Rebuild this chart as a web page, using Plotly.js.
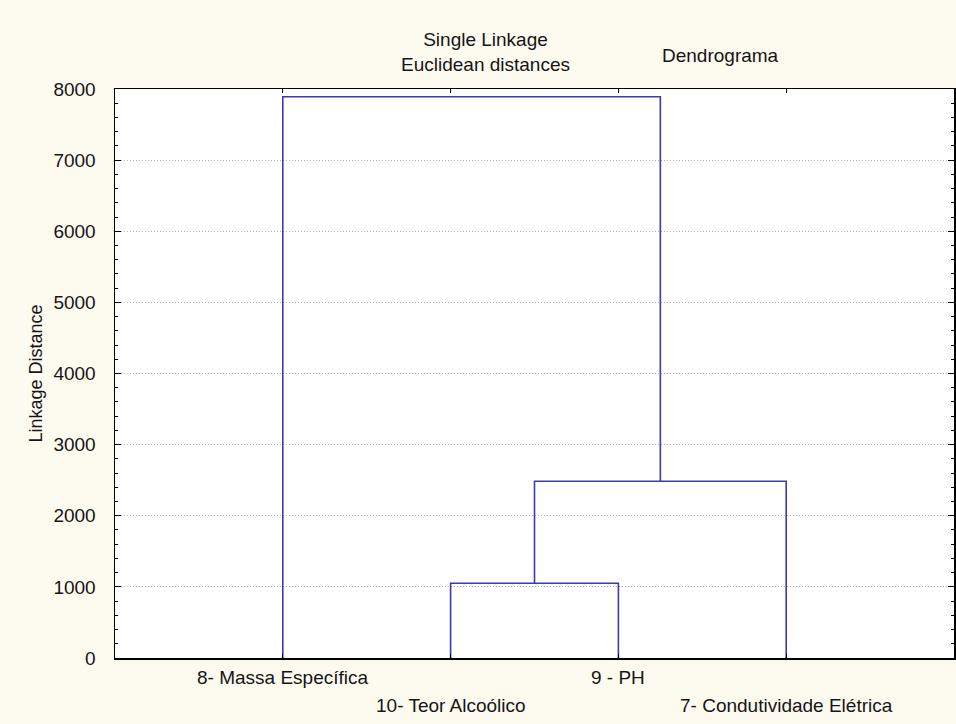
<!DOCTYPE html>
<html>
<head>
<meta charset="utf-8">
<script src="https://cdn.plot.ly/plotly-3.0.1.min.js"></script>
<style>html,body{margin:0;padding:0;background:#fdfaf0;}#chart{width:956px;height:724px;}</style>
</head>
<body>
<div id="chart"></div>
<script>
// Leaves in dendrogram order (x positions 1..4)
const leafLabels = ['8- Massa Específica', '10- Teor Alcoólico', '9 - PH', '7- Condutividade Elétrica'];
const leafPos = [1, 2, 3, 4];
const labelRow = [0, 1, 0, 1];
// Merges: left node, right node, linkage distance (nodes: 0..3 leaves, 4.. clusters)
const mergeLeft = [1, 4, 0];
const mergeRight = [2, 3, 5];
const mergeHeight = [1050, 2485, 7890];
const yTicks = [0, 1000, 2000, 3000, 4000, 5000, 6000, 7000, 8000];

const lineColor = '#3b3bb0';
const nodeX = leafPos.slice();
const nodeY = leafPos.map(() => 0);
const traces = [];
for (let i = 0; i < mergeHeight.length; i++) {
  const a = mergeLeft[i], b = mergeRight[i], h = mergeHeight[i];
  traces.push({
    type: 'scatter', mode: 'lines',
    x: [nodeX[a], nodeX[a], nodeX[b], nodeX[b]],
    y: [nodeY[a], h, h, nodeY[b]],
    line: {color: lineColor, width: 1.6},
    hoverinfo: 'skip', showlegend: false
  });
  nodeX.push((nodeX[a] + nodeX[b]) / 2);
  nodeY.push(h);
}

const font = {family: 'Arial, "Liberation Sans", sans-serif', color: '#151515'};
const fs = 19;
const annotations = [
  {text: 'Single Linkage<br>Euclidean distances', xref: 'paper', yref: 'paper',
   x: (485 - 115) / 839, y: 1, yshift: 37, showarrow: false, xanchor: 'center', yanchor: 'middle',
   font: Object.assign({size: fs}, font)},
  {text: 'Dendrograma', xref: 'paper', yref: 'paper',
   x: (720 - 115) / 839, y: 1, yshift: 34, showarrow: false, xanchor: 'center', yanchor: 'middle',
   font: Object.assign({size: fs}, font)},
  {text: 'Linkage Distance', xref: 'paper', yref: 'paper', x: (35 - 115) / 839, y: 0.5,
   textangle: -90, showarrow: false, xanchor: 'center', yanchor: 'middle',
   font: Object.assign({size: 18}, font)}
];
leafLabels.forEach((t, i) => {
  annotations.push({text: t, xref: 'x', yref: 'paper', x: leafPos[i], y: 0,
    yshift: labelRow[i] ? -47 : -19, showarrow: false, xanchor: 'center', yanchor: 'middle',
    font: Object.assign({size: fs}, font)});
});

const layout = {
  width: 956, height: 724,
  margin: {l: 115, r: 2, t: 89, b: 66},
  paper_bgcolor: '#fdfaf0', plot_bgcolor: '#ffffff',
  font: font,
  xaxis: {range: [0, 5], tickvals: leafPos, showticklabels: false, ticks: 'inside', ticklen: 4,
    tickcolor: '#000', showgrid: false, zeroline: false, showline: true, linecolor: '#000',
    linewidth: 1.5, mirror: 'ticks', fixedrange: true},
  yaxis: {range: [0, 8000], tickvals: yTicks, ticks: 'inside', ticklen: 6, tickcolor: '#000',
    tickfont: Object.assign({size: fs}, font), ticklabelstandoff: 14,
    showgrid: true, gridcolor: '#b4b4b4', griddash: '1px,2px', gridwidth: 1,
    zeroline: false, showline: true, linecolor: '#000', linewidth: 1.5, mirror: 'ticks',
    minor: {dtick: 200, ticks: 'inside', ticklen: 3, tickcolor: '#000', showgrid: false},
    fixedrange: true},
  annotations: annotations,
  showlegend: false
};
Plotly.newPlot('chart', traces, layout, {displayModeBar: false, staticPlot: true});
</script>
</body>
</html>
